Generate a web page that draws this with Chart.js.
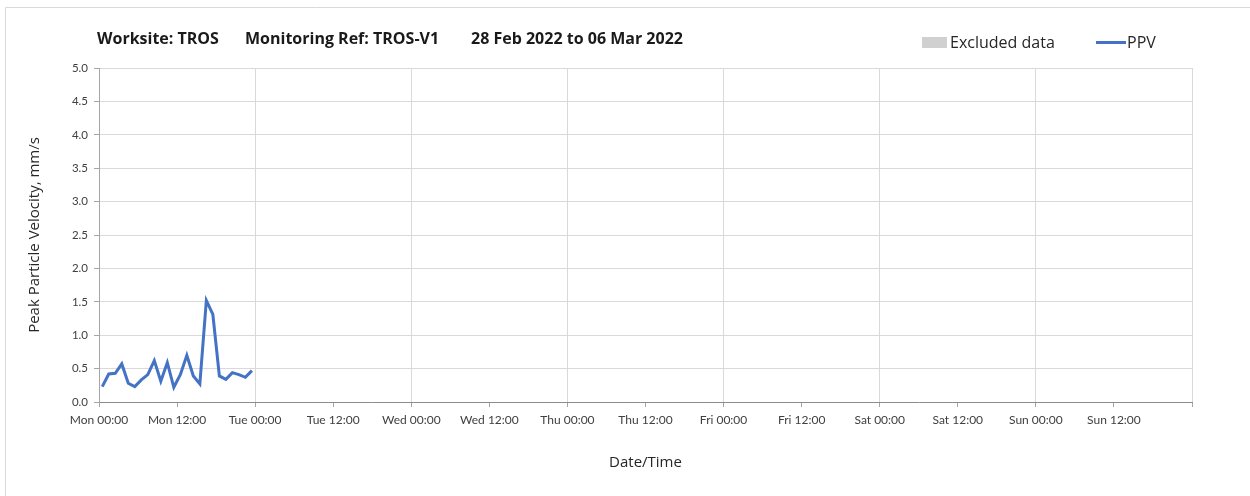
<!DOCTYPE html>
<html>
<head>
<meta charset="utf-8">
<script src="https://cdn.jsdelivr.net/npm/chart.js@4.4.0/dist/chart.umd.min.js"></script>
<style>
  html, body { margin: 0; padding: 0; background: #ffffff; }
  #wrap { width: 1250px; height: 496px; position: relative; }
</style>
</head>
<body>
<div id="wrap"><canvas id="c" width="1250" height="496"></canvas></div>
<script>
// ---- Data (hours since Mon 00:00) ----
const ppvHours = [0.5, 1.5, 2.5, 3.5, 4.5, 5.5, 6.5, 7.5, 8.5, 9.5, 10.5, 11.5,
                  12.5, 13.5, 14.5, 15.5, 16.5, 17.5, 18.5, 19.5, 20.5, 21.5, 22.5, 23.5];
const ppvValues = [0.23, 0.42, 0.43, 0.57, 0.28, 0.23, 0.33, 0.41, 0.62, 0.31, 0.59, 0.22,
                   0.41, 0.70, 0.39, 0.27, 1.52, 1.31, 0.39, 0.34, 0.44, 0.41, 0.37, 0.47];
const xTickLabels = ["Mon 00:00", "Mon 12:00", "Tue 00:00", "Tue 12:00", "Wed 00:00", "Wed 12:00",
                     "Thu 00:00", "Thu 12:00", "Fri 00:00", "Fri 12:00", "Sat 00:00", "Sat 12:00",
                     "Sun 00:00", "Sun 12:00", ""];
const yTickValues = [0, 0.5, 1.0, 1.5, 2.0, 2.5, 3.0, 3.5, 4.0, 4.5, 5.0];
const titleParts = ["Worksite: TROS", "Monitoring Ref: TROS-V1", "28 Feb 2022 to 06 Mar 2022"];
const legendItems = ["Excluded data", "PPV"];
const yAxisTitle = "Peak Particle Velocity, mm/s";
const xAxisTitle = "Date/Time";

const TICK_FONT = "Lato, 'Open Sans', sans-serif";
const FONT = "'Open Sans', Lato, sans-serif";
const LINE_COLOR = "#4472c4";

const headerPlugin = {
  id: "header",
  beforeDraw(chart) {
    const ctx = chart.ctx;
    ctx.save();
    ctx.strokeStyle = "#d9d9d9";
    ctx.lineWidth = 1;
    ctx.beginPath();
    ctx.moveTo(5.5, 500); ctx.lineTo(5.5, 7.5); ctx.lineTo(1250, 7.5);
    ctx.stroke();
    ctx.restore();
  },
  afterDraw(chart) {
    const ctx = chart.ctx;
    ctx.save();
    ctx.textBaseline = "middle";
    ctx.fillStyle = "#1a1a1a";
    ctx.font = "bold 16px " + FONT;
    const xs = [97, 245, 471];
    titleParts.forEach((t, i) => ctx.fillText(t, xs[i], 39));
    // legend
    ctx.fillStyle = "#d0d0d0";
    ctx.fillRect(922, 37, 25, 11);
    ctx.fillStyle = "#262626";
    ctx.font = "16px " + FONT;
    ctx.fillText(legendItems[0], 950, 43);
    ctx.strokeStyle = LINE_COLOR;
    ctx.lineWidth = 3;
    ctx.beginPath(); ctx.moveTo(1096, 42.5); ctx.lineTo(1126, 42.5); ctx.stroke();
    ctx.fillText(legendItems[1], 1127, 43);
    ctx.restore();
  }
};

new Chart(document.getElementById("c"), {
  type: "line",
  data: {
    datasets: [{
      label: "PPV",
      data: ppvHours.map((h, i) => ({ x: h, y: ppvValues[i] })),
      borderColor: LINE_COLOR,
      borderWidth: 3,
      pointRadius: 0,
      tension: 0,
      fill: false
    }]
  },
  options: {
    responsive: false,
    animation: false,
    layout: { padding: { left: 24, top: 68, right: 58, bottom: 0 } },
    plugins: { legend: { display: false }, title: { display: false }, tooltip: { enabled: false } },
    scales: {
      x: {
        type: "linear",
        min: 0, max: 168,
        afterBuildTicks(scale) {
          scale.ticks = xTickLabels.map((_, i) => ({ value: i * 12 }));
        },
        afterFit(scale) { scale.height = 94; },
        ticks: {
          autoSkip: false, maxRotation: 0,
          callback: (v) => xTickLabels[Math.round(v / 12)] || "",
          font: { family: TICK_FONT, size: 12 }, color: "#404040", padding: 6
        },
        grid: {
          color: (c) => (c.tick && c.tick.value % 24 === 0 ? "#d9d9d9" : "rgba(0,0,0,0)"),
          tickColor: "#a6a6a6", tickLength: 5, lineWidth: 1
        },
        border: { color: "#8c8c8c", width: 1 },
        title: { display: true, text: xAxisTitle, font: { family: FONT, size: 15 }, color: "#262626", padding: { top: 4, bottom: 24 } }
      },
      y: {
        min: 0, max: 5,
        afterBuildTicks(scale) { scale.ticks = yTickValues.map(v => ({ value: v })); },
        afterFit(scale) { scale.width = 75; },
        ticks: {
          callback: (v) => Number(v).toFixed(1),
          font: { family: TICK_FONT, size: 11.5 }, color: "#404040", padding: 6
        },
        grid: { color: "#d9d9d9", tickColor: "#a6a6a6", tickLength: 5 },
        border: { color: "#a6a6a6", width: 1 },
        title: { display: true, text: yAxisTitle, font: { family: FONT, size: 15 }, color: "#262626", padding: { top: 2, bottom: 0 } }
      }
    }
  },
  plugins: [headerPlugin]
});
</script>
</body>
</html>
